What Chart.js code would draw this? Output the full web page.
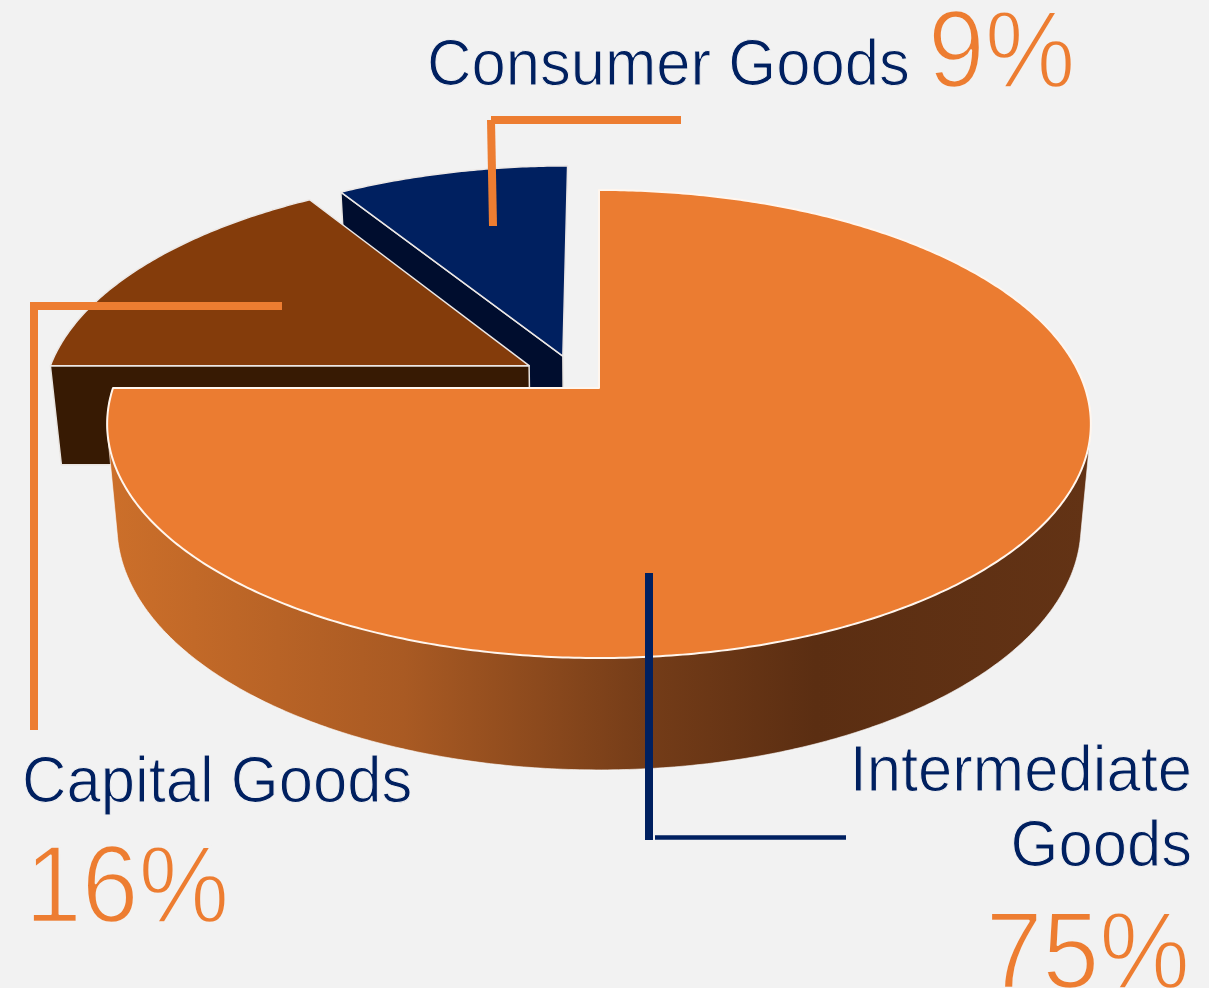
<!DOCTYPE html>
<html><head><meta charset="utf-8">
<style>html,body{margin:0;padding:0;background:#f2f2f2}canvas{display:block}</style>
<script src="https://cdn.jsdelivr.net/npm/chart.js@4"></script>
</head><body><canvas id="c" width="1209" height="988"></canvas>
<script>
const categories = ['Intermediate Goods', 'Capital Goods', 'Consumer Goods'];
const shares = [75, 16, 9];
const shareLabels = ['75%', '16%', '9%'];
const topColors = ['#eb7c31', '#843c0b', '#002060'];
const cutColors = ['#5f3114', '#371a03', '#000d2e'];
const explodeU = [0, -0.146, -0.076];
const explodeV = [0, -0.099, -0.143];

const view = {cx: 599, cy: 388, a: 486, b: 228.5, k: 0.1538, sx: 0.98, sy: 1.044, dy: 100};
function proj(u, v, i, bottom) {
  const U = u + explodeU[i], V = v + explodeV[i], w = 1 - view.k * V;
  let X = view.a * U / w, Y = view.b * V / w;
  if (bottom) { X *= view.sx; Y = Y * view.sy + view.dy; }
  return [view.cx + X, view.cy + Y];
}
function arcPts(s, e, i, bottom) {
  const n = Math.max(2, Math.ceil(Math.abs(e - s) / 0.01)), out = [];
  for (let j = 0; j <= n; j++) {
    const t = s + (e - s) * j / n;
    out.push(proj(Math.cos(t), Math.sin(t), i, bottom));
  }
  return out;
}
function hull(pts) {
  const p = pts.slice().sort((a, b) => a[0] - b[0] || a[1] - b[1]);
  const cross = (o, a, b) => (a[0]-o[0])*(b[1]-o[1]) - (a[1]-o[1])*(b[0]-o[0]);
  const half = list => {
    const h = [];
    list.forEach(q => {
      while (h.length > 1 && cross(h[h.length-2], h[h.length-1], q) <= 0) h.pop();
      h.push(q);
    });
    h.pop();
    return h;
  };
  return half(p).concat(half(p.slice().reverse()));
}
function poly(ctx, pts) {
  ctx.beginPath();
  pts.forEach((p, j) => j ? ctx.lineTo(p[0], p[1]) : ctx.moveTo(p[0], p[1]));
  ctx.closePath();
}
const pie3d = {
  id: 'pie3d',
  beforeDatasetsDraw(chart) {
    const ctx = chart.ctx, arcs = chart.getDatasetMeta(0).data;
    ctx.save();
    ctx.lineJoin = 'round';
    [2, 1, 0].forEach(i => {
      const a = arcs[i], s = a.startAngle, e = a.endAngle;
      const top = arcPts(s, e, i, false);
      if (i === 0) {
        const g = ctx.createLinearGradient(110, 0, 1090, 0);
        g.addColorStop(0, '#cc6f2a'); g.addColorStop(0.30, '#a95a23');
        g.addColorStop(0.55, '#743c18'); g.addColorStop(0.72, '#5b2e12'); g.addColorStop(1, '#633315');
        poly(ctx, hull(arcPts(0.05, Math.PI, i, false).concat(arcPts(0.05, Math.PI, i, true))));
        ctx.fillStyle = g; ctx.fill();
        ctx.strokeStyle = 'rgba(255,255,255,0.6)'; ctx.lineWidth = 1; ctx.stroke();
      } else {
        const apexT = proj(0, 0, i, false), apexB = proj(0, 0, i, true);
        const cT = proj(Math.cos(s), Math.sin(s), i, false);
        const cB = proj(Math.cos(s), Math.sin(s), i, true);
        poly(ctx, [apexT, cT, cB, apexB]);
        ctx.fillStyle = cutColors[i]; ctx.fill();
        ctx.strokeStyle = '#e8e4e0'; ctx.lineWidth = 1.5; ctx.stroke();
      }
      poly(ctx, [proj(0, 0, i, false)].concat(top));
      ctx.fillStyle = topColors[i]; ctx.fill();
      ctx.strokeStyle = i === 0 ? '#fff6ee' : '#ece8e6'; ctx.lineWidth = i === 0 ? 2 : 1.5; ctx.stroke();
    });
    ctx.restore();
    return false;
  },
  afterDraw(chart) {
    const ctx = chart.ctx;
    ctx.save();
    const seg = (col, w, x1, y1, x2, y2) => {
      ctx.strokeStyle = col; ctx.lineWidth = w; ctx.beginPath(); ctx.moveTo(x1, y1); ctx.lineTo(x2, y2); ctx.stroke();
    };
    seg('#ed7d31', 8, 491, 120, 681, 120);
    seg('#ed7d31', 8, 491, 120, 493, 226);
    seg('#ed7d31', 8, 30, 306, 282, 306);
    seg('#ed7d31', 8, 34, 302, 34, 730);
    seg('#002060', 8, 649, 573, 649, 840);
    seg('#002060', 4.7, 655, 837.5, 846, 837.5);
    ctx.textBaseline = 'alphabetic';
    ctx.lineJoin = 'round';
    const t = (s, x, y, size, col, al, thin, stretch) => {
      ctx.save();
      ctx.translate(x, y); ctx.scale(1, stretch);
      ctx.font = size + 'px "Liberation Sans"'; ctx.fillStyle = col; ctx.textAlign = al; ctx.fillText(s, 0, 0);
      ctx.strokeStyle = '#f2f2f2'; ctx.lineWidth = thin; ctx.strokeText(s, 0, 0);
      ctx.restore();
    };
    t(categories[2], 427, 85, 61.6, '#002060', 'left', 1, 1.05);
    t(shareLabels[2], 928, 87, 102, '#ed7d31', 'left', 2.2, 1.07);
    t(categories[1], 22, 802, 61.6, '#002060', 'left', 1, 1.05);
    t(shareLabels[1], 25, 922, 102, '#ed7d31', 'left', 2.2, 1.07);
    t('Intermediate', 1192, 791, 61.6, '#002060', 'right', 1, 1.05);
    t('Goods', 1192, 866, 61.6, '#002060', 'right', 1, 1.05);
    t(shareLabels[0], 1190, 988, 102, '#ed7d31', 'right', 2.2, 1.07);
    ctx.restore();
  }
};
new Chart(document.getElementById('c'), {
  type: 'pie',
  data: {labels: categories, datasets: [{data: shares, backgroundColor: topColors}]},
  options: {responsive: false, animation: false, plugins: {legend: {display: false}, tooltip: {enabled: false}}},
  plugins: [pie3d]
});
</script></body></html>
